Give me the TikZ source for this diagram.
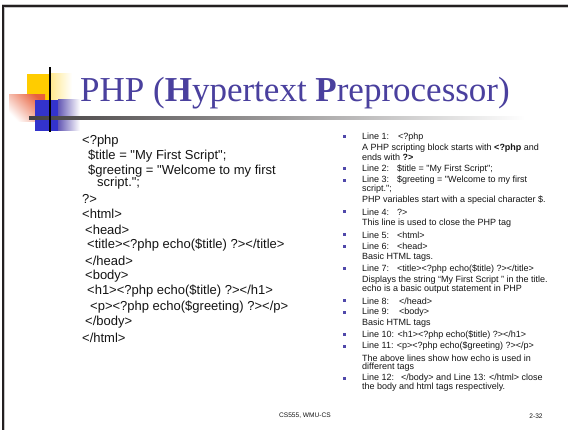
\documentclass[tikz,border=0pt]{standalone}
\usepackage{fontspec}
\setmainfont{Liberation Serif}
\newfontfamily\arialfont{Liberation Sans}
\usetikzlibrary{calc}
\definecolor{titleblue}{RGB}{74,64,158}
\definecolor{bulletblue}{RGB}{80,72,170}
\definecolor{frameink}{RGB}{35,31,32}
\definecolor{logoyellow}{RGB}{255,204,0}
\definecolor{logored}{RGB}{232,96,60}
\definecolor{logoblue}{RGB}{51,51,204}
\definecolor{logoviolet}{RGB}{100,88,180}
\definecolor{textgrey}{RGB}{20,20,20}
\tikzset{
  code/.style={font=\arialfont\fontsize{13}{15}\selectfont, anchor=west, inner sep=0pt, text=textgrey},
  note/.style={font=\arialfont\fontsize{9}{10}\selectfont, anchor=west, inner sep=0pt, text=textgrey},
  foot/.style={font=\arialfont\fontsize{6.6}{8}\selectfont, inner sep=0pt, text=textgrey},
  bul/.style={fill=bulletblue, minimum size=3pt, inner sep=0pt},
}
\begin{document}
\begin{tikzpicture}[x=1pt,y=-1pt]
\useasboundingbox (0,0) rectangle (568,430);
\fill[white] (0,0) rectangle (568,430);

% slide frame: top and left rules
\fill[gray!45] (1.5,4.5) rectangle (568,8);
\fill[gray!45] (1.5,4.5) rectangle (5,430);
\fill[frameink] (2.3,5.3) rectangle (568,7.3);
\fill[frameink] (2.3,5.3) rectangle (4.3,430);

% logo blocks
\fill[logoyellow] (27,74) rectangle (50,100);
\shade[left color=logoyellow!45, right color=white] (50,74) rectangle (72,100);
\shade[top color=logored, bottom color=white, shading angle=-45] (9,95) rectangle (45,122);
\fill[logoblue] (35,100) rectangle (58,131);
\shade[left color=logoviolet, right color=white] (58,100) rectangle (80,131);
\shade[left color=frameink!85, right color=white, middle color=frameink!45!white] (29,116.5) rectangle (525,119.5);
\fill[black] (49.3,67) rectangle (50.9,132);

% title
\node[anchor=base west, inner sep=0pt, text=titleblue, font=\fontsize{35}{40}\selectfont] (title) at (80,102)
  {PHP (\textbf{H}ypertext \textbf{P}reprocessor)};

% PHP listing
\node[code] (c1)  at (82,141.5) {<?php};
\node[code] (c2)  at (88,156.5) {\$title = "My First Script";};
\node[code] (c3)  at (88,171.5) {\$greeting = "Welcome to my first};
\node[code] (c3b) at (97,183.5) {script.";};
\node[code] (c4)  at (82,198.5) {?>};
\node[code] (c5)  at (82,214)   {<html>};
\node[code] (c6)  at (85,229.5) {<head>};
\node[code] (c7)  at (87,245)   {<title><?php echo(\$title) ?></title>};
\node[code] (c8)  at (85,260.5) {</head>};
\node[code] (c9)  at (85,276)   {<body>};
\node[code] (c10) at (87,291.5) {<h1><?php echo(\$title) ?></h1>};
\node[code] (c11) at (90,307)   {<p><?php echo(\$greeting) ?></p>};
\node[code] (c12) at (85,322.5) {</body>};
\node[code] (c13) at (82,338)   {</html>};

% notes on each line
\node[note] (n1)  at (362,137)   {Line 1:\hspace{9pt}<?php};
\node[note] (n1a) at (362,148.4) {A PHP scripting block starts with \textbf{<?php} and};
\node[note] (n1b) at (362,157.4) {ends with \textbf{?>}};
\node[note] (n2)  at (362,168.8) {Line 2:\hspace{8pt}\$title = "My First Script";};
\node[note] (n3)  at (362,180.2) {Line 3:\hspace{8pt}\$greeting = "Welcome to my first};
\node[note] (n3a) at (362,189.2) {script.";};
\node[note] (n3b) at (362,200.6) {PHP variables start with a special character \$.};
\node[note] (n4)  at (362,212.0) {Line 4:\hspace{8pt}?>};
\node[note] (n4a) at (362,223.4) {This line is used to close the PHP tag};
\node[note] (n5)  at (362,234.8) {Line 5:\hspace{8pt}<html>};
\node[note] (n6)  at (362,246.2) {Line 6:\hspace{8pt}<head>};
\node[note] (n6a) at (362,257.6) {Basic HTML tags.};
\node[note] (n7)  at (362,269.0) {Line 7:\hspace{8pt}<title><?php echo(\$title) ?></title>};
\node[note] (n7a) at (362,280.4) {Displays the string “My First Script ” in the title.};
\node[note] (n7b) at (362,289.4) {echo is a basic output statement in PHP};
\node[note] (n8)  at (362,300.8) {Line 8:\hspace{10pt}</head>};
\node[note] (n9)  at (362,312.2) {Line 9:\hspace{10pt}<body>};
\node[note] (n9a) at (362,323.6) {Basic HTML tags};
\node[note] (n10) at (362,335.0) {Line 10: <h1><?php echo(\$title) ?></h1>};
\node[note] (n11) at (362,346.4) {Line 11: <p><?php echo(\$greeting) ?></p>};
\node[note] (n11a) at (362,357.8) {The above lines show how echo is used in};
\node[note] (n11b) at (362,366.8) {different tags};
\node[note] (n12) at (362,378.2) {Line 12:\hspace{7pt}</body> and Line 13: </html> close};
\node[note] (n12a) at (362,387.2) {the body and html tags respectively.};

% bullets
\foreach \b in {n1,n2,n3,n4,n5,n6,n7,n8,n9,n10,n11,n12}
  \node[bul] (b-\b) at ($(\b.west)+(-18,0)$) {};

% footer
\node[foot] (f1) at (305,416) {CS555, WMU-CS};
\node[foot] (f2) at (536,416) {2-32};
\end{tikzpicture}
\end{document}
